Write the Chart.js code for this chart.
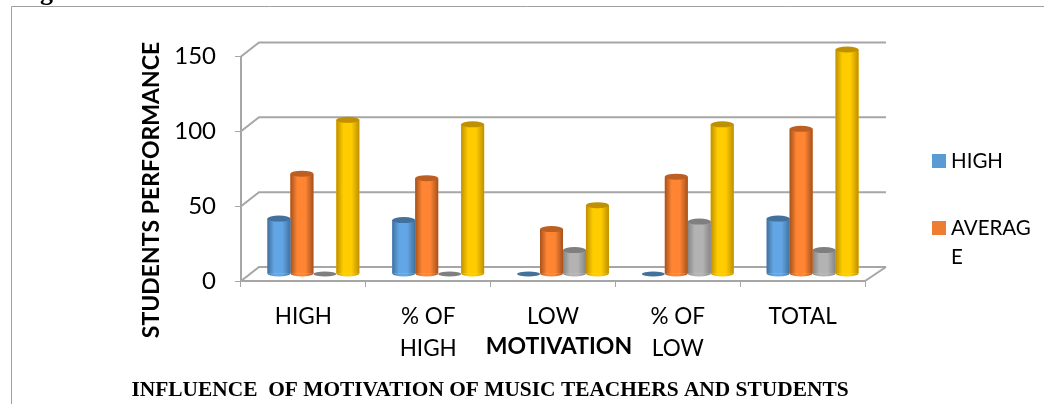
<!DOCTYPE html>
<html>
<head>
<meta charset="utf-8">
<style>
  html, body { margin: 0; padding: 0; background: #fff; }
  canvas { display: block; }
</style>
</head>
<body>
<canvas id="chart" width="1044" height="404"></canvas>
<script src="https://cdn.jsdelivr.net/npm/chart.js@4"></script>
<script>
const categories = ["HIGH", ["% OF", "HIGH"], "LOW", ["% OF", "LOW"], "TOTAL"];
const highValues = [37, 36, 0, 0, 37];
const averageValues = [67, 64, 30, 65, 97];
const lowValues = [0, 0, 16, 35, 16];
const totalValues = [103, 100, 46, 100, 150];
const xTitle = "MOTIVATION";
const yTitle = "STUDENTS PERFORMANCE";
const caption = "INFLUENCE  OF MOTIVATION OF MUSIC TEACHERS AND STUDENTS";
const legendLines = [["HIGH"], ["AVERAG", "E"]];

const AXIS_GREY = "#a6a6a6";
const SANS = "Lato, sans-serif";
const SERIF = "'Liberation Serif', serif";

// body colours of the cylinders: edge, middle, top cap
const looks = [
  { edge: "#41719c", mid: "#62a6e6", cap: "#41719c", flat: "#5b9bd5" },
  { edge: "#a5521c", mid: "#ff8533", cap: "#bd5f22", flat: "#ed7d31" },
  { edge: "#858585", mid: "#b3b3b3", cap: "#7f7f7f", flat: "#a5a5a5" },
  { edge: "#bf9000", mid: "#ffcc00", cap: "#bf9000", flat: "#ffc000" }
];

// ==================== 3D LOOK ====================
const depth = { x: 18, y: -14 };
const barShift = { x: 10, y: -7 };
const capRadius = 3;

const look3d = {
  id: "look3d",
  beforeDatasetsDraw(chart) {
    const { ctx, chartArea, scales } = chart;
    ctx.save();
    ctx.strokeStyle = AXIS_GREY;
    ctx.lineWidth = 2;
    scales.y.ticks.forEach(tick => {
      const y = scales.y.getPixelForValue(tick.value);
      ctx.beginPath();
      ctx.moveTo(chartArea.left, y);
      ctx.lineTo(chartArea.left + depth.x, y + depth.y);
      ctx.lineTo(chartArea.right + depth.x + 3, y + depth.y);
      ctx.stroke();
    });
    ctx.beginPath();
    ctx.moveTo(chartArea.right, chartArea.bottom);
    ctx.lineTo(chartArea.right + depth.x + 3, chartArea.bottom + depth.y);
    ctx.stroke();
    ctx.restore();
  },
  beforeDatasetDraw(chart) {
    chart.ctx.save();
    chart.ctx.translate(barShift.x, barShift.y);
  },
  afterDatasetDraw(chart, args) {
    const ctx = chart.ctx;
    const c = looks[args.index];
    args.meta.data.forEach(bar => {
      const { x, y, base, width } = bar.getProps(["x", "y", "base", "width"], true);
      const left = x - width / 2;
      if (Math.abs(base - y) < 1) {
        ctx.fillStyle = c.cap;
        ctx.beginPath();
        ctx.ellipse(x, base, width / 2, capRadius - 0.5, 0, 0, Math.PI * 2);
        ctx.fill();
        return;
      }
      const grad = ctx.createLinearGradient(left, 0, left + width, 0);
      grad.addColorStop(0, c.edge);
      grad.addColorStop(0.3, c.mid);
      grad.addColorStop(0.65, c.mid);
      grad.addColorStop(1, c.edge);
      ctx.fillStyle = grad;
      ctx.beginPath();
      ctx.rect(left, y, width, base - y);
      ctx.fill();
      ctx.beginPath();
      ctx.ellipse(x, base, width / 2, capRadius, 0, 0, Math.PI);
      ctx.fill();
      ctx.fillStyle = c.cap;
      ctx.beginPath();
      ctx.ellipse(x, y, width / 2, capRadius, 0, 0, Math.PI * 2);
      ctx.fill();
    });
    ctx.restore();
  },
  afterDraw(chart) {
    const ctx = chart.ctx;
    ctx.save();

    // frame left over from the page the chart was cut from
    ctx.strokeStyle = "#a0a0a0";
    ctx.lineWidth = 1;
    ctx.beginPath();
    ctx.moveTo(11.5, 404);
    ctx.lineTo(11.5, 6.5);
    ctx.lineTo(1044, 6.5);
    ctx.stroke();
    ctx.fillStyle = "#000";
    ctx.font = "bold 26px " + SERIF;
    ctx.textBaseline = "alphabetic";
    ctx.fillText("g", 40, 0);

    // axis titles
    ctx.textAlign = "center";
    ctx.textBaseline = "middle";
    ctx.font = "bold 23px " + SANS;
    ctx.fillText(xTitle, 559, 347);
    ctx.save();
    ctx.translate(152, 190);
    ctx.rotate(-Math.PI / 2);
    ctx.fillText(yTitle, 0, 0);
    ctx.restore();

    // caption
    ctx.font = "bold 21.4px " + SERIF;
    ctx.fillText(caption, 490, 390);

    // legend, only the first two series are visible in the picture
    ctx.textAlign = "left";
    ctx.font = "20.5px " + SANS;
    const rows = [161, 228];
    legendLines.forEach((lines, i) => {
      ctx.fillStyle = looks[i].flat;
      ctx.fillRect(932, rows[i] - 7, 14, 14);
      ctx.fillStyle = "#000";
      lines.forEach((line, j) => ctx.fillText(line, 951, rows[i] + j * 29));
    });
    ctx.restore();
  }
};

// ==================== CHART ====================
function series(label, data, i) {
  return { label, data, backgroundColor: looks[i].flat, clip: false };
}

new Chart(document.getElementById("chart"), {
  type: "bar",
  data: {
    labels: categories,
    datasets: [
      series("HIGH", highValues, 0),
      series("AVERAGE", averageValues, 1),
      series("LOW", lowValues, 2),
      series("TOTAL", totalValues, 3)
    ]
  },
  plugins: [look3d],
  options: {
    responsive: false,
    animation: false,
    barPercentage: 1,
    categoryPercentage: 0.736,
    layout: {
      autoPadding: false,
      padding: { top: 56.5, right: 179, left: 0, bottom: 0 }
    },
    plugins: { legend: { display: false }, tooltip: { enabled: false } },
    scales: {
      x: {
        afterFit: scale => { scale.height = 123; },
        border: { color: AXIS_GREY, width: 2 },
        grid: { drawOnChartArea: false, color: AXIS_GREY, tickLength: 6 },
        ticks: {
          color: "#000",
          maxRotation: 0,
          padding: 13,
          font: { family: SANS, size: 22.5, lineHeight: 1.45 }
        }
      },
      y: {
        min: 0,
        max: 150,
        afterFit: scale => { scale.width = 241; },
        border: { color: AXIS_GREY, width: 2 },
        grid: { drawOnChartArea: false, color: AXIS_GREY, tickLength: 6 },
        ticks: {
          stepSize: 50,
          color: "#000",
          padding: 19,
          font: { family: SANS, size: 24 }
        }
      }
    }
  }
});
</script>
</body>
</html>
